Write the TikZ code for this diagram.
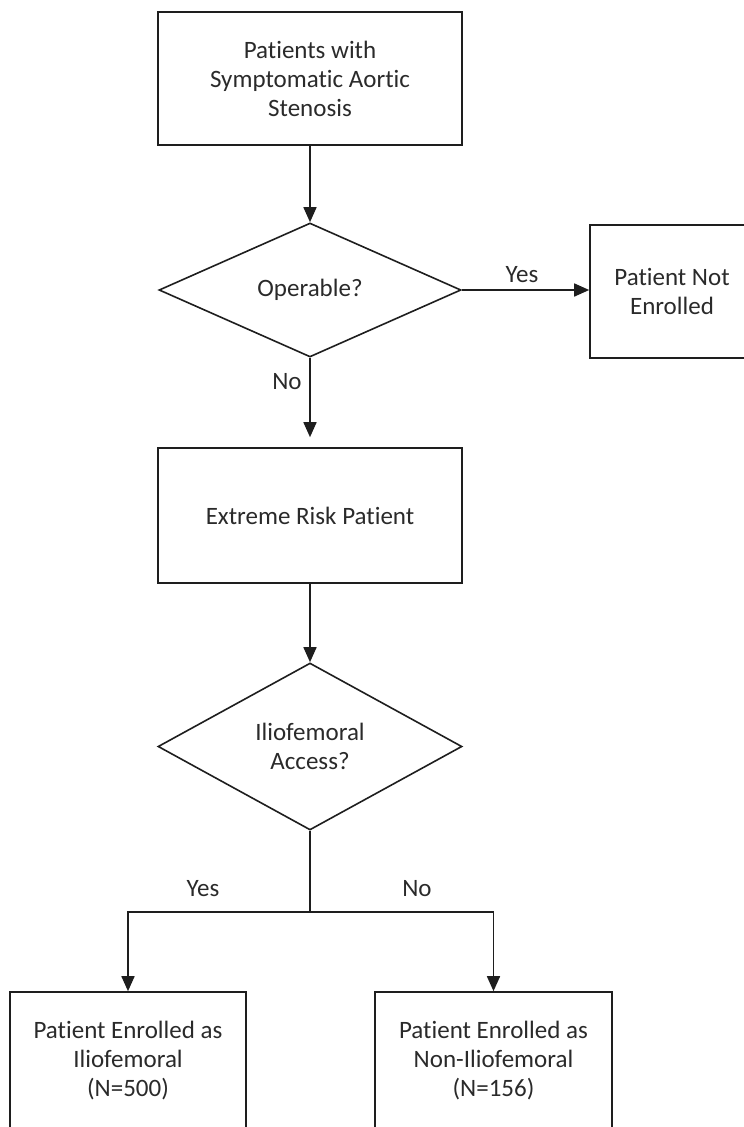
\documentclass[tikz,border=0pt]{standalone}
\usepackage{fontspec}
\setmainfont{Carlito}[Ligatures=NoCommon]
\usetikzlibrary{arrows.meta,shapes.geometric}

\definecolor{linegray}{HTML}{1E1E1E}
\definecolor{textgray}{HTML}{2A2A2A}

\begin{document}
\begin{tikzpicture}[x=1pt, y=-1pt,
	box/.style={draw=linegray, line width=1.6pt, align=center, inner sep=0pt,
		text=textgray, font=\fontsize{25}{29}\selectfont},
	decision/.style={diamond, draw=linegray, line width=1.6pt, align=center,
		inner sep=0pt, text=textgray, font=\fontsize{25}{29}\selectfont},
	answer/.style={text=textgray, font=\fontsize{25}{29}\selectfont},
	link/.style={draw=linegray, line width=1.6pt},
	arr/.style={link, -{Triangle[width=13pt,length=15pt]}}]

	% ---- frame

	\useasboundingbox (0,0) rectangle (744,1127);

	% ---- boxes

	\node[box, minimum width=304pt, minimum height=133pt] (stenosis) at (310,78.5)
		{Patients with\\Symptomatic Aortic\\Stenosis};
	\node[box, minimum width=164pt, minimum height=133pt] (notenrolled) at (672,291.5)
		{Patient Not\\Enrolled};
	\node[box, minimum width=304pt, minimum height=135pt] (extreme) at (310,515.5)
		{Extreme Risk Patient};
	\node[box, minimum width=236pt, minimum height=137pt] (enrilio) at (128,1060.5)
		{Patient Enrolled as\\Iliofemoral\\(N=500)};
	\node[box, minimum width=237pt, minimum height=137pt] (enrnonilio) at (493.5,1060.5)
		{Patient Enrolled as\\Non-Iliofemoral\\(N=156)};

	% ---- decisions

	\node[decision, minimum width=302pt, minimum height=134pt] (operable) at (310,290)
		{Operable?};
	\node[decision, minimum width=304pt, minimum height=167pt] (access) at (310,746.5)
		{Iliofemoral\\Access?};

	% ---- connectors

	\draw[arr] (stenosis) -- (operable);
	\draw[arr] (operable.east) -- (operable.east -| notenrolled.west);
	\draw[arr, shorten >=10pt] (operable) -- (extreme);
	\draw[arr] (extreme) -- (access);

	\coordinate (fork) at (310,912);
	\draw[link] (access.south) -- (fork);
	\draw[arr] (fork) -| (enrilio.north);
	\draw[arr] (fork) -| (enrnonilio.north);

	% ---- answers

	\node[answer] (yesop) at (522,275) {Yes};
	\node[answer] (noop) at (287,382) {No};
	\node[answer] (yesacc) at (203,889) {Yes};
	\node[answer] (noacc) at (417,889) {No};

\end{tikzpicture}
\end{document}
